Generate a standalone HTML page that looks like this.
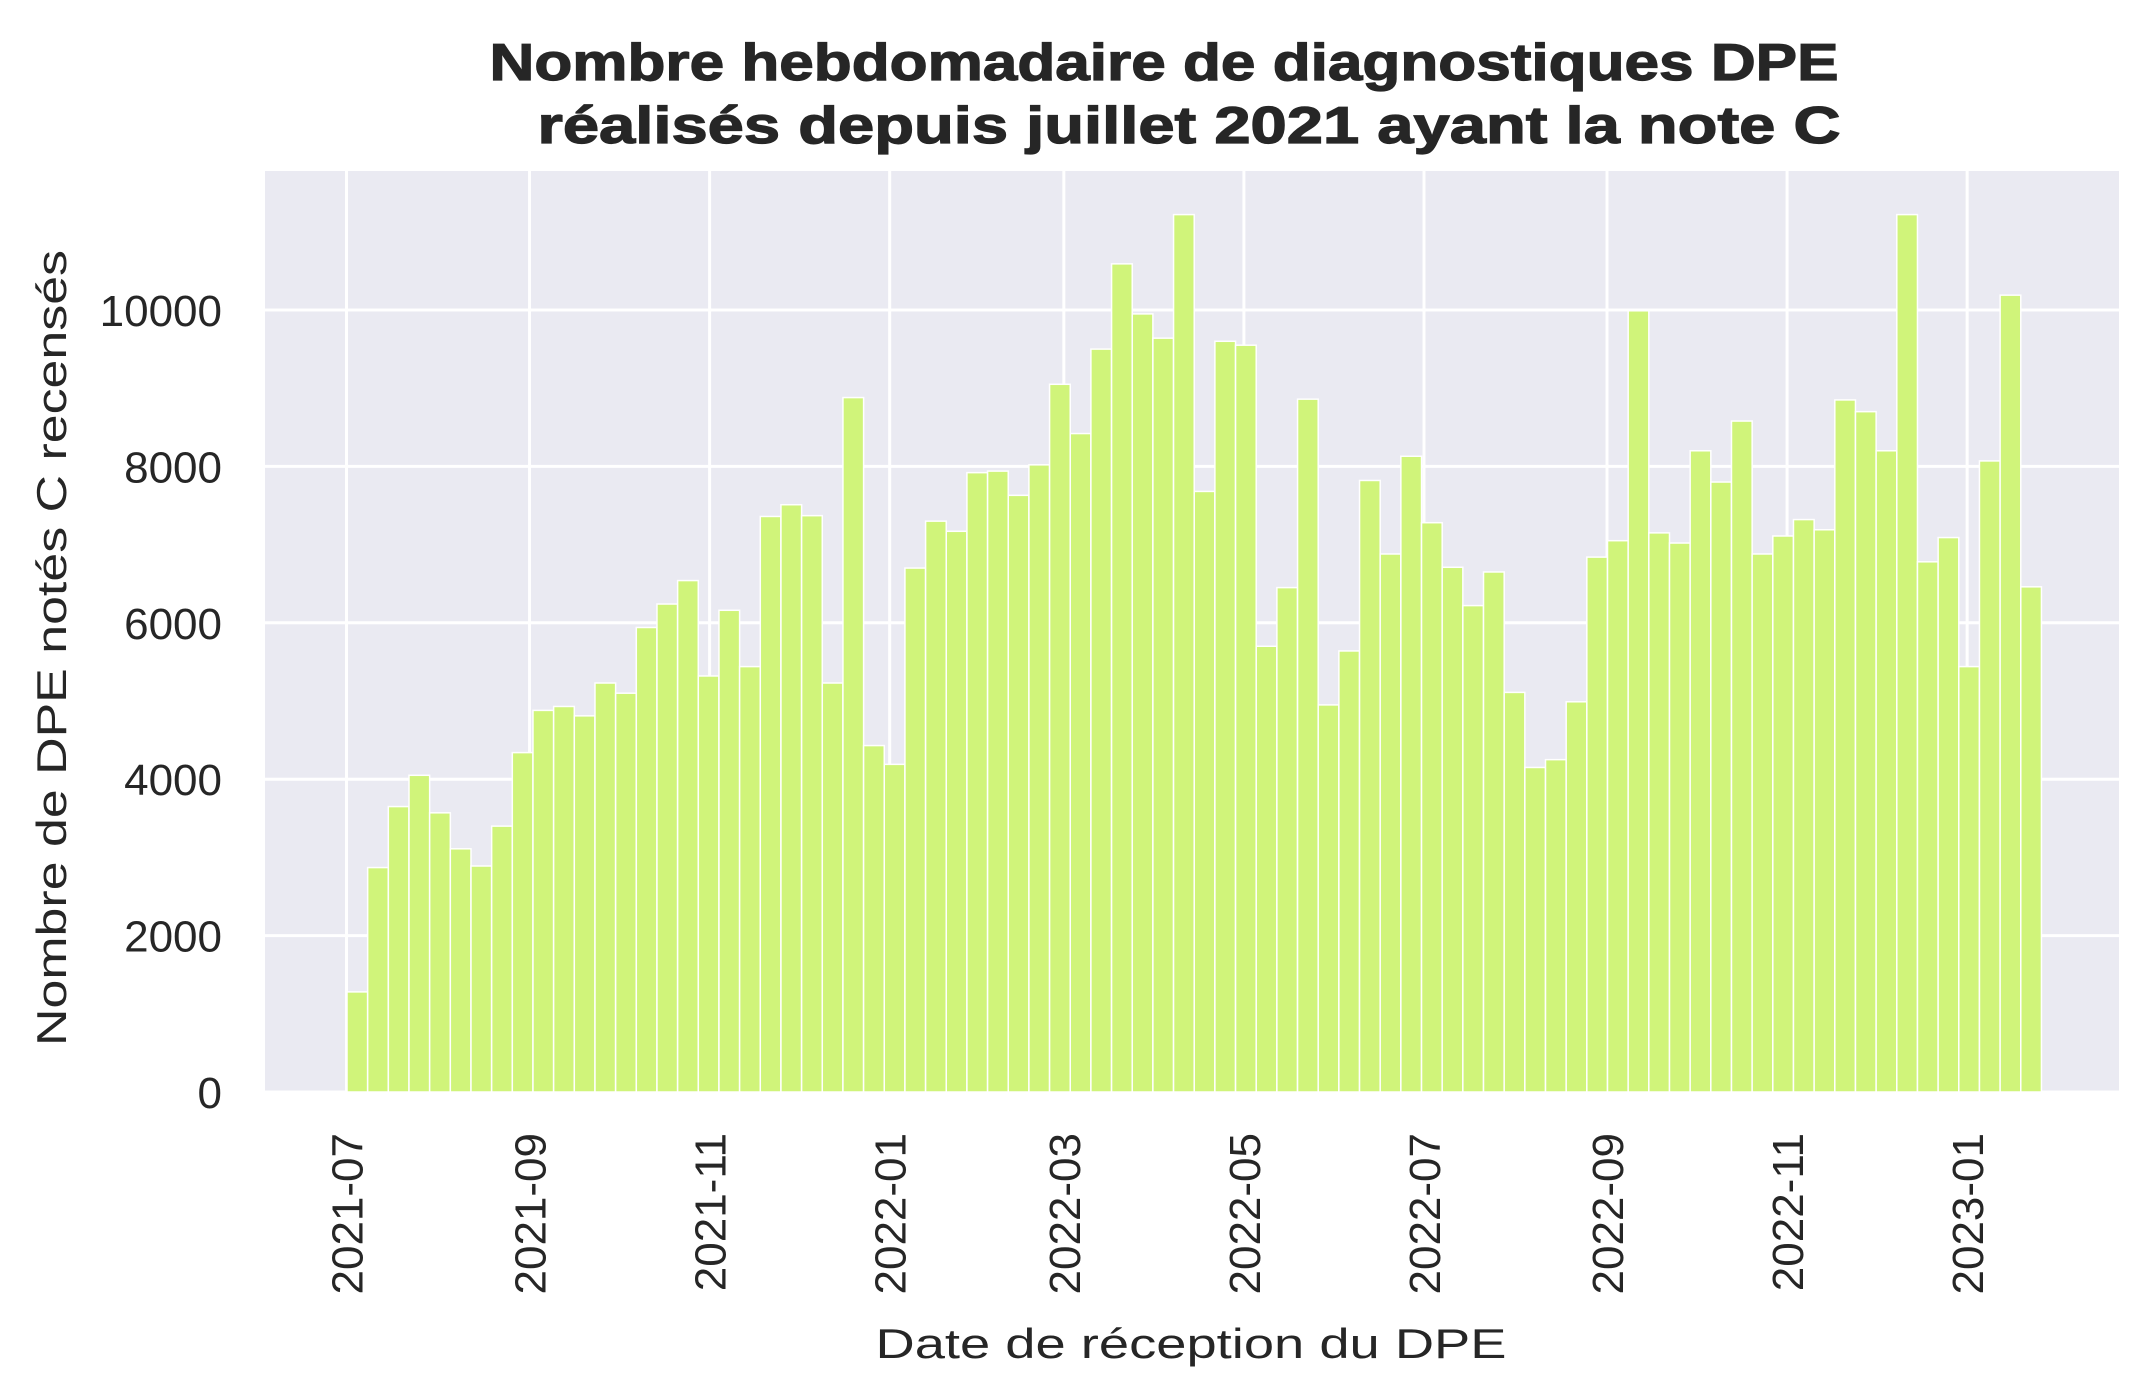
<!DOCTYPE html>
<html><head><meta charset="utf-8"><style>
html,body{margin:0;padding:0;background:#fff;}
svg{display:block;}
text{font-family:"Liberation Sans","DejaVu Sans",sans-serif;fill:#262626;}
</style></head><body>
<svg id="s" width="2151" height="1396" xmlns="http://www.w3.org/2000/svg">
<rect x="265" y="171" width="1854" height="921" fill="#eaeaf2"/>
<g id="grid"></g>
<g id="bars"></g>
<g id="labels"></g>
<text x="1164" y="80" font-size="52" font-weight="bold" text-anchor="middle" textLength="1349" lengthAdjust="spacingAndGlyphs" stroke="#262626" stroke-width="1.2">Nombre hebdomadaire de diagnostiques DPE</text>
<text x="1189" y="143" font-size="52" font-weight="bold" text-anchor="middle" textLength="1303" lengthAdjust="spacingAndGlyphs" stroke="#262626" stroke-width="1.2">réalisés depuis juillet 2021 ayant la note C</text>
<text x="1191" y="1358" font-size="42" text-anchor="middle" textLength="631" lengthAdjust="spacingAndGlyphs">Date de réception du DPE</text>
<text transform="translate(66,648) rotate(-90)" font-size="42" text-anchor="middle" textLength="796" lengthAdjust="spacingAndGlyphs">Nombre de DPE notés C recensés</text>
</svg>
<script>
var NS="http://www.w3.org/2000/svg";
function el(p,t,a,txt){var e=document.createElementNS(NS,t);for(var k in a)e.setAttribute(k,a[k]);if(txt!==undefined)e.textContent=txt;document.getElementById(p).appendChild(e);return e;}
var y0=1092,py=(1092-310)/10000;
function Y(v){return y0-v*py;}
var days=[0,62,123,184,243,304,365,427,488,549];
var lbl=["2021-07","2021-09","2021-11","2022-01","2022-03","2022-05","2022-07","2022-09","2022-11","2023-01"];
var pxd=2.952,x0=346.5;
for(var v=0;v<=10000;v+=2000){
  el("grid","line",{x1:265,x2:2119,y1:Y(v),y2:Y(v),stroke:"#fff","stroke-width":3});
  el("labels","text",{x:222,y:Y(v)+16,"font-size":44,"text-anchor":"end"},String(v));
}
days.forEach(function(d,i){
  var x=x0+d*pxd;
  el("grid","line",{x1:x,x2:x,y1:171,y2:1092,stroke:"#fff","stroke-width":3});
  el("labels","text",{transform:"translate("+(x+16)+",1133) rotate(-90)","font-size":44,"text-anchor":"end"},lbl[i]);
});
var vals=[1280,2870,3650,4050,3570,3110,2890,3400,4340,4880,4930,4810,5230,5100,5940,6240,6540,5320,6160,5440,7360,7510,7370,5230,8880,4430,4190,6700,7300,7170,7920,7940,7630,8020,9050,8420,9500,10590,9950,9640,11220,7680,9600,9550,5700,6450,8860,4950,5640,7820,6880,8130,7280,6710,6220,6650,5110,4150,4250,4990,6840,7050,9990,7150,7020,8200,7800,8580,6880,7110,7320,7190,8850,8700,8200,11220,6780,7090,5440,8070,10190,6460];
var bw=7*pxd;
vals.forEach(function(v,i){
  var x=347+i*bw;
  el("bars","rect",{x:x,y:Y(v),width:bw,height:y0-Y(v),fill:"#d0f47a",stroke:"#fff","stroke-width":1.5});
});
</script>
</body></html>
